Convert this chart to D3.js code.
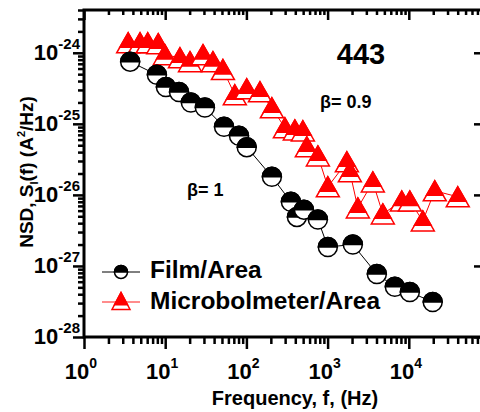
<!DOCTYPE html>
<html lang="en">
<head>
<meta charset="UTF-8" />
<title>NSD vs frequency</title>
<script src="https://d3js.org/d3.v7.min.js"></script>
<style>
  body { margin: 0; background: #fff; }
  text { font-family: "Liberation Sans", Arial, sans-serif; font-weight: bold; fill: #000; }
  .axis path { display: none; }
  .axis line { stroke: #000; stroke-width: 2.5; }
</style>
</head>
<body>
<svg id="canvas" width="480" height="412"></svg>
<script>
// Film / area (Hz, A^2/Hz)
const filmFreq = [3.7, 7.9, 10.2, 14.8, 20.7, 30.8, 53, 81, 101, 206, 353, 419, 511, 759, 1007, 2045, 4040, 6730, 10300, 19700];
const filmNsd = [7.5e-25, 4.9e-25, 3.3e-25, 2.8e-25, 2.0e-25, 1.7e-25, 9.1e-26, 6.8e-26, 4.7e-26, 1.8e-26, 8.0e-27, 4.9e-27, 6.2e-27, 4.5e-27, 1.85e-27, 2.0e-27, 7.7e-28, 5.1e-28, 4.3e-28, 3.1e-28];

// Microbolometer / area
const microFreq = [3.5, 4.9, 6.1, 8.2, 9.9, 15.2, 20.2, 29.2, 38.7, 51.4, 72, 101, 147, 206, 298, 395, 496, 555, 759, 1007, 1727, 1880, 2357, 3605, 4786, 8200, 10300, 14870, 20900, 40100];
const microNsd = [1.38e-24, 1.38e-24, 1.38e-24, 1.34e-24, 9.4e-25, 8.5e-25, 7.5e-25, 9.4e-25, 7.5e-25, 5.8e-25, 2.56e-25, 3.11e-25, 2.82e-25, 1.68e-25, 8.8e-26, 8.2e-26, 7.96e-26, 4.74e-26, 3.54e-26, 1.30e-26, 2.92e-26, 2.11e-26, 6.56e-27, 1.52e-26, 5.4e-27, 8.2e-27, 8.2e-27, 4.3e-27, 1.14e-26, 9.4e-27];

const seriesNames = ["Film/Area", "Microbolmeter/Area"];
const xTickExps = [0, 1, 2, 3, 4];
const yTickExps = [-24, -25, -26, -27, -28];

const svg = d3.select("#canvas");
const x = d3.scaleLog().domain([1, 1e5]).range([84, 490]);
const y = d3.scaleLog().domain([1e-28, 4e-24]).range([337, 10]);

// tick lists
const xMajor = [1, 10, 100, 1e3, 1e4, 1e5];
const xMinor = [];
for (let e = 0; e < 5; e++) for (let m = 2; m < 10; m++) xMinor.push(m * Math.pow(10, e));
const yMajor = yTickExps.map((e) => Math.pow(10, e));
const yMinor = [];
for (let e = -28; e <= -24; e++) for (let m = 2; m < 10; m++) {
  const v = m * Math.pow(10, e);
  if (v <= 4.01e-24) yMinor.push(v);
}

function addAxis(gen, vals, size, tr) {
  svg.append("g").attr("class", "axis").attr("transform", tr)
    .call(gen.tickValues(vals).tickSize(size).tickSizeOuter(0).tickFormat(""));
}
addAxis(d3.axisBottom(x), xMinor, 7, "translate(0,337)");
addAxis(d3.axisBottom(x), xMajor, 12, "translate(0,337)");
addAxis(d3.axisTop(x), xMinor, -5, "translate(0,10)");
addAxis(d3.axisTop(x), xMajor, -10, "translate(0,10)");
addAxis(d3.axisLeft(y), yMinor, 6, "translate(84,0)");
addAxis(d3.axisLeft(y), yMajor, 11, "translate(84,0)");
addAxis(d3.axisRight(y), yMinor, -8, "translate(490,0)");
addAxis(d3.axisRight(y), yMajor, -16, "translate(490,0)");

// frame
svg.append("rect").attr("x", 84).attr("y", 10).attr("width", 406).attr("height", 327)
  .attr("fill", "none").attr("stroke", "#000").attr("stroke-width", 3);

// tick labels
xTickExps.forEach((e) => {
  const t = svg.append("text").attr("x", x(Math.pow(10, e)) - 3).attr("y", 379)
    .attr("text-anchor", "middle").attr("font-size", 22);
  t.append("tspan").text("10");
  t.append("tspan").attr("dy", -11).attr("font-size", 14).text(e);
});
yTickExps.forEach((e) => {
  const t = svg.append("text").attr("x", 80).attr("y", y(Math.pow(10, e)) + 7)
    .attr("text-anchor", "end").attr("font-size", 22);
  t.append("tspan").text("10");
  t.append("tspan").attr("dy", -11).attr("font-size", 15).text(e);
});

// axis titles
svg.append("text").attr("x", 295).attr("y", 405).attr("text-anchor", "middle")
  .attr("font-size", 20).text("Frequency, f, (Hz)");
const yt = svg.append("text").attr("transform", "translate(33,172) rotate(-90)")
  .attr("text-anchor", "middle").attr("font-size", 19);
yt.append("tspan").text("NSD, S");
yt.append("tspan").attr("dy", 5).attr("font-size", 11).text("I");
yt.append("tspan").attr("dy", -5).text("(f) (A");
yt.append("tspan").attr("dy", -8).attr("font-size", 11).text("2");
yt.append("tspan").attr("dy", 8).text("/Hz)");

// series lines
const film = filmFreq.map((f, i) => [f, filmNsd[i]]);
const micro = microFreq.map((f, i) => [f, microNsd[i]]);
const line = d3.line().x((d) => x(d[0])).y((d) => y(d[1]));
svg.append("path").datum(micro).attr("d", line).attr("fill", "none").attr("stroke", "#f00").attr("stroke-width", 1);
svg.append("path").datum(film).attr("d", line).attr("fill", "none").attr("stroke", "#000").attr("stroke-width", 1);

// markers
function halfCircle(g, cx, cy, r) {
  g.append("circle").attr("cx", cx).attr("cy", cy).attr("r", r)
    .attr("fill", "#fff").attr("stroke", "#000").attr("stroke-width", 1.5);
  g.append("path").attr("d", `M${cx - r},${cy}A${r},${r} 0 0 1 ${cx + r},${cy}Z`)
    .attr("fill", "#000").attr("stroke", "#000").attr("stroke-width", 1.5);
}
function halfTriangle(g, cx, cy, w, h) {
  const top = cy - h / 2, bot = cy + h / 2, k = 0.72;
  g.append("path").attr("d", `M${cx},${top}L${cx + w / 2},${bot}L${cx - w / 2},${bot}Z`)
    .attr("fill", "#fff").attr("stroke", "#f00").attr("stroke-width", 1.5);
  g.append("path").attr("d", `M${cx},${top}L${cx + k * w / 2},${top + k * h}L${cx - k * w / 2},${top + k * h}Z`)
    .attr("fill", "#f00").attr("stroke", "#f00").attr("stroke-width", 1.5);
}
const gm = svg.append("g");
micro.forEach((d) => halfTriangle(gm, x(d[0]), y(d[1]), 23, 20));
const gf = svg.append("g");
film.forEach((d) => halfCircle(gf, x(d[0]), y(d[1]), 9.5));

// annotations
svg.append("text").attr("x", 361).attr("y", 64).attr("text-anchor", "middle").attr("font-size", 29).text("443");
svg.append("text").attr("x", 320).attr("y", 108).attr("font-size", 18).text("\u03b2= 0.9");
svg.append("text").attr("x", 187).attr("y", 196).attr("font-size", 18).text("\u03b2= 1");

// legend
const lg = svg.append("g");
lg.append("line").attr("x1", 102).attr("x2", 140).attr("y1", 272).attr("y2", 272).attr("stroke", "#000").attr("stroke-width", 1);
halfCircle(lg, 121, 272, 6.5);
lg.append("text").attr("x", 150).attr("y", 278).attr("font-size", 24.5).text(seriesNames[0]);
lg.append("line").attr("x1", 102).attr("x2", 140).attr("y1", 302).attr("y2", 302).attr("stroke", "#f66").attr("stroke-width", 1.5);
halfTriangle(lg, 121, 301, 18, 17);
lg.append("text").attr("x", 150).attr("y", 309).attr("font-size", 24.5).text(seriesNames[1]);
</script>
</body>
</html>
